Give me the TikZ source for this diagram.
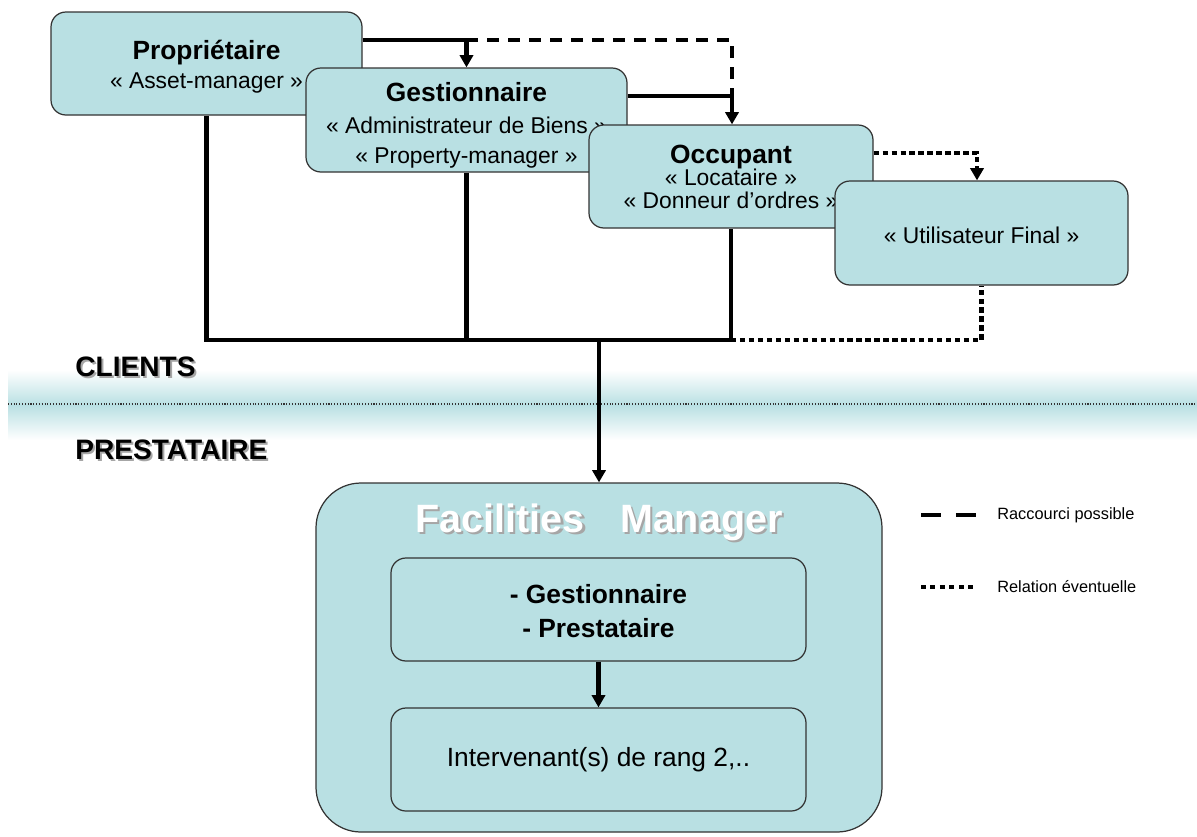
\documentclass[tikz,border=0pt]{standalone}
\usepackage{fontspec}
\setmainfont{Liberation Sans}
\usetikzlibrary{arrows.meta}
\definecolor{boxblue}{RGB}{185,224,227}
\newcommand{\pxu}{0.02cm}

\begin{document}
\begin{tikzpicture}[x=0.02cm,y=-0.02cm]
\tikzstyle{every node}+=[inner sep=0pt]
\tikzstyle{box}=[draw=black!80,line width=0.7pt,fill=boxblue,rounded corners=8.5pt]
\tikzstyle{boxtext}=[align=center,font=\fontsize{13}{17}\selectfont]
\tikzstyle{link}=[black,line width=2.6pt]
\tikzstyle{shortcut}=[link,dash pattern=on 6.8pt off 5.1pt]
\tikzstyle{maybe}=[link,dash pattern=on 3pt off 2.1pt]
\tikzstyle{tip}=[-{Triangle[width=7.5pt,length=7pt]}]
\tikzstyle{side}=[font=\bfseries\fontsize{16}{16}\selectfont,anchor=west]
\tikzstyle{legend}=[font=\fontsize{9.3}{11}\selectfont,anchor=west]
\useasboundingbox (0,0) rectangle (1197,836);
\shade [top color=white,bottom color=boxblue] (8,370) rectangle (1197,405);
\shade [top color=boxblue,bottom color=white] (8,405) rectangle (1197,440);
\draw [black!80,line width=0.6pt,densely dotted] (8,404) -- (1197,404);
\node [side,text=black!35] (clientsshadow) at (77,369) {CLIENTS};
\node [side] (clients) at (75,367) {CLIENTS};
\node [side,text=black!35] (prestashadow) at (77,452) {PRESTATAIRE};
\node [side] (presta) at (75,450) {PRESTATAIRE};
\node [box,minimum width=311*\pxu,minimum height=103*\pxu] (prop) at (206.5,63.5) {};
\node [boxtext] (proptext) at ([yshift=-1.8pt]prop.center)
  {{\bfseries\fontsize{15}{17}\selectfont Propriétaire}\\« Asset-manager »};
\node [box,minimum width=321*\pxu,minimum height=104*\pxu] (gest) at (466.5,120) {};
\node [boxtext] (gesttext) at ([yshift=-3pt]gest.center)
  {{\bfseries\fontsize{15}{17}\selectfont Gestionnaire}\\[1pt]« Administrateur de Biens »\\« Property-manager »};
\node [box,minimum width=284*\pxu,minimum height=103*\pxu] (occ) at (731,176.5) {};
\node [boxtext,font=\fontsize{13}{12.8}\selectfont] (occtext) at (occ.center)
  {{\bfseries\fontsize{15}{12.8}\selectfont Occupant}\\« Locataire »\\« Donneur d’ordres »};
\node [box,minimum width=293*\pxu,minimum height=104*\pxu] (util) at (981.5,233) {};
\node [boxtext] (utiltext) at ([yshift=-1.5pt]util.center) {« Utilisateur Final »};
\node [box,rounded corners=25.6pt,minimum width=566*\pxu,minimum height=349*\pxu] (fm) at (599,657.5) {};
\node [font=\bfseries\fontsize{22.5}{23}\selectfont,text=black!35] (fmshadow) at (601.5,524.5) {Facilities\hspace{0.9em}Manager};
\node [font=\bfseries\fontsize{22.5}{23}\selectfont,text=white] (fmtitle) at (599,522) {Facilities\hspace{0.9em}Manager};
\node [box,minimum width=415*\pxu,minimum height=103*\pxu] (inone) at (598.5,609.5) {};
\node [boxtext,font=\bfseries\fontsize{15}{19}\selectfont] (inonetext) at ([yshift=-1pt]inone.center)
  {- Gestionnaire\\- Prestataire};
\node [box,minimum width=415*\pxu,minimum height=103*\pxu] (intwo) at (598.5,759.5) {};
\node [boxtext,font=\fontsize{15}{17}\selectfont] (intwotext) at (intwo.center)
  {Intervenant(s) de rang 2,..};
\coordinate (j1) at (466.5,40);
\coordinate (j2) at (732,40);
\coordinate (j3) at (732,96);
\coordinate (j4) at (977,153);
\coordinate (bus) at (599,340);
\draw [link] (j1 -| prop.east) -- (j1);
\draw [link,tip] (j1) -- (j1 |- gest.north);
\draw [shortcut] (j1) -- (j2) -- (j3);
\draw [link] (j3 -| gest.east) -- (j3);
\draw [link,tip] (j3) -- (j3 |- occ.north);
\draw [maybe,tip] (j4 -| occ.east) -- (j4) -- (j4 |- util.north);
\draw [link] (prop.south) -- (prop.south |- bus) -- (occ.south |- bus) -- (occ.south);
\draw [link] (gest.south) -- (gest.south |- bus);
\draw [maybe] (occ.south |- bus) -- (util.south |- bus) -- (util.south);
\draw [link,tip] (bus) -- (fm.north);
\draw [link,tip] (inone.south) -- (intwo.north);
\coordinate (dashA) at (921,515);
\coordinate (dashB) at (976,515);
\coordinate (dotA) at (921,587);
\coordinate (dotB) at (976,587);
\draw [link,line width=2.8pt,dash pattern=on 11.4pt off 8.5pt] (dashA) -- (dashB);
\draw [link,line width=2.8pt,dash pattern=on 2.8pt off 2.6pt] (dotA) -- (dotB);
\node [legend] (lgshort) at (997,515) {Raccourci possible};
\node [legend] (lgmaybe) at (997,587) {Relation éventuelle};
\end{tikzpicture}
\end{document}
